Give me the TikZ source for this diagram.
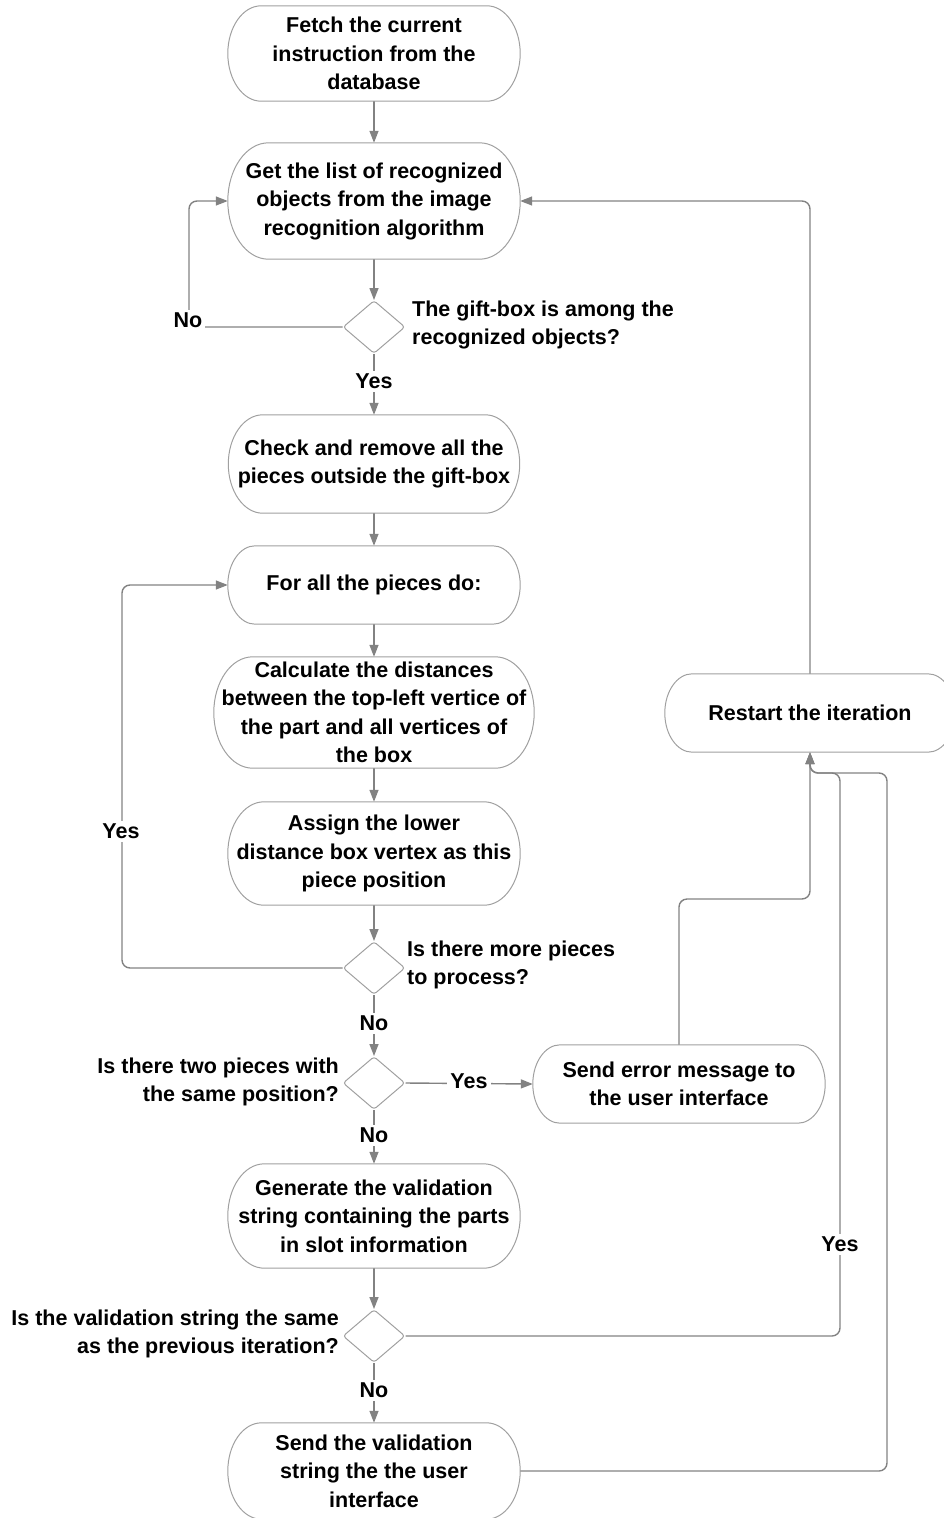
\documentclass[tikz,border=0pt]{standalone}
\usepackage{fontspec}
\setmainfont{Liberation Sans}
\usetikzlibrary{shapes.geometric,arrows.meta,backgrounds,calc}
\definecolor{linegray}{HTML}{828282}
\definecolor{boxgray}{HTML}{A0A0A0}
\tikzset{
  txt/.style={font=\fontsize{21.5}{28.5}\selectfont\bfseries, inner sep=2pt},
  term/.style={txt, align=center, draw=none},
  dia/.style={diamond, draw=boxgray, line width=1pt, minimum width=62pt,
    minimum height=53pt, inner sep=0pt, rounded corners=3pt},
  note/.style={txt},
  lab/.style={txt, fill=white, inner sep=3pt},
  conn/.style={draw=linegray, line width=1.4pt, rounded corners=8pt},
  arr/.style={conn, -{Triangle[length=12pt,width=9pt]}},
}
% terminator outline with elliptic ends, fitted to a node's box
\newcommand\drawcapsule[1]{%
  \path[draw=boxgray, line width=1pt] let \p1=(#1.north west), \p2=(#1.south east),
    \n1={(\y1-\y2)/2}, \n2={0.7*(\y1-\y2)/2} in
    (\x1+\n2,\y1) -- (\x2-\n2,\y1)
    arc[start angle=90, end angle=-90, x radius=\n2, y radius=\n1]
    -- (\x1+\n2,\y2)
    arc[start angle=270, end angle=90, x radius=\n2, y radius=\n1] -- cycle;}
\begin{document}
\begin{tikzpicture}[x=1pt,y=1pt]
\useasboundingbox (0,0) rectangle (944,-1518);

% process steps
\node[term, minimum width=292pt, minimum height=95pt] (fetch) at (374,-53.5)
  {Fetch the current\\instruction from the\\database};
\node[term, minimum width=292pt, minimum height=116pt] (get) at (374,-201)
  {Get the list of recognized\\objects from the image\\recognition algorithm};
\node[term, minimum width=291pt, minimum height=98pt] (check) at (374,-464)
  {Check and remove all the\\pieces outside the gift-box};
\node[term, minimum width=292pt, minimum height=78pt] (forall) at (374,-585)
  {For all the pieces do:};
\node[term, minimum width=320pt, minimum height=111pt] (calc) at (374,-712.5)
  {Calculate the distances\\between the top-left vertice of\\the part and all vertices of\\the box};
\node[term, minimum width=292pt, minimum height=103pt] (assign) at (374,-853.5)
  {Assign the lower\\distance box vertex as this\\piece position};
\node[term, minimum width=292pt, minimum height=78pt] (err) at (679,-1084)
  {Send error message to\\the user interface};
\node[term, minimum width=292pt, minimum height=104pt] (gen) at (374,-1216)
  {Generate the validation\\string containing the parts\\in slot information};
\node[term, minimum width=292pt, minimum height=96pt] (send) at (374,-1471)
  {Send the validation\\string the the user\\interface};
\node[term, minimum width=290pt, minimum height=78pt] (restart) at (810,-713)
  {Restart the iteration};

\foreach \nm in {fetch,get,check,forall,calc,assign,err,gen,send,restart}
  {\drawcapsule{\nm}}

% decisions
\node[dia] (d1) at (374,-327) {};
\node[dia] (d2) at (374,-968) {};
\node[dia] (d3) at (374,-1083) {};
\node[dia] (d4) at (374,-1336) {};

\node[note, anchor=west, align=left] (q1) at (410,-325)
  {The gift-box is among the\\recognized objects?};
\node[note, anchor=west, align=left] (q2) at (405,-965)
  {Is there more pieces\\to process?};
\node[note, anchor=east, align=right] (q3) at (341,-1082)
  {Is there two pieces with\\the same position?};
\node[note, anchor=east, align=right] (q4) at (341,-1334)
  {Is the validation string the same\\as the previous iteration?};

% branch labels
\node[lab] (no1) at (188,-320) {No};
\node[lab] (yes1) at (374,-381) {Yes};
\node[lab] (yes2) at (121,-831) {Yes};
\node[lab] (no2) at (374,-1023) {No};
\node[lab] (yes3) at (469,-1081) {Yes};
\node[lab] (no3) at (374,-1135) {No};
\node[lab] (yes4) at (840,-1244) {Yes};
\node[lab] (no4) at (374,-1390) {No};

% bend points
\coordinate (k1) at (189,-201);
\coordinate (k2) at (122,-585);
\coordinate (k3) at (810,-899);
\coordinate (k4) at (840,-773);
\coordinate (k5) at (887,-773);

\begin{scope}[on background layer]
  \draw[arr] (fetch.south) -- (get.north);
  \draw[arr] (get.south) -- (d1.north);
  \draw[arr] (d1.west) -| (k1) -- (get.west);
  \draw[arr] (d1.south) -- (check.north);
  \draw[arr] (check.south) -- (forall.north);
  \draw[arr] (forall.south) -- (calc.north);
  \draw[arr] (calc.south) -- (assign.north);
  \draw[arr] (assign.south) -- (d2.north);
  \draw[arr] (d2.west) -| (k2) -- (forall.west);
  \draw[arr] (d2.south) -- (d3.north);
  \draw[arr] (d3.east) -- (err.west);
  \draw[arr] (d3.south) -- (gen.north);
  \draw[arr] (gen.south) -- (d4.north);
  \draw[arr] (d4.south) -- (send.north);
  \draw[arr] (err.north) |- (k3) -- (restart.south);
  \draw[arr] (d4.east) -| (k4) -| (restart.south);
  \draw[arr] (send.east) -| (k5) -| (restart.south);
  \draw[arr] (restart.north) |- (get.east);
\end{scope}
\end{tikzpicture}
\end{document}
